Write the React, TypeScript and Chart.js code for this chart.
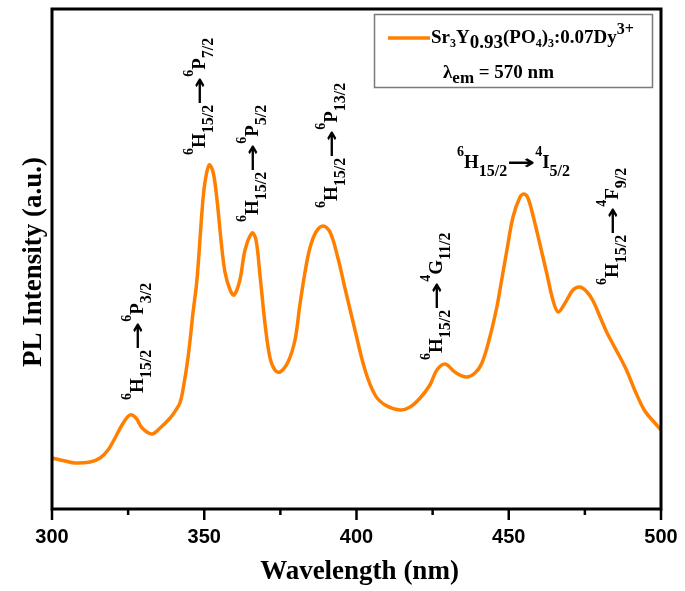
import React, { useEffect, useRef } from 'react';
import { Chart, registerables } from 'chart.js';
Chart.register(...registerables);

// ---- data ----
const wavelengths = [
  300.0, 304.3, 307.6, 312.5, 315.8, 318.4, 320.7, 323.0, 325.6, 327.6, 329.6, 332.8, 335.5, 338.8, 340.7,
  342.0, 343.0, 344.7, 346.3, 347.6, 349.3, 350.2, 351.6, 352.9, 354.2, 355.5, 356.8, 358.5, 359.8, 361.7,
  363.4, 365.7, 367.0, 368.3, 370.0, 371.6, 373.2, 374.9, 377.5, 379.8, 381.4, 383.1, 384.7, 386.7, 389.0,
  391.3, 393.9, 396.2, 399.5, 402.8, 406.1, 409.4, 414.3, 417.6, 420.9, 424.1, 426.4, 429.1, 432.3, 436.0,
  438.9, 441.2, 443.8, 446.1, 447.1, 449.4, 451.4, 453.7, 455.0, 456.3, 458.0, 460.3, 462.6, 464.5,
  466.2, 468.5, 471.1, 473.4, 475.7, 477.7, 480.0, 482.3, 484.2, 486.5, 488.8, 491.5, 494.7, 498.0, 500.0,
];
const intensities = [
  51, 48, 46, 47, 51, 59, 71, 84, 94, 91, 81, 75, 81, 91, 99,
  106, 119, 152, 196, 229, 299, 326, 344, 337, 309, 269, 237, 219, 214, 229,
  259, 276, 269, 234, 184, 151, 139, 137, 147, 169, 204, 237, 261, 277, 283,
  277, 251, 221, 179, 139, 114, 104, 99, 102, 111, 124, 139, 145, 137, 132,
  136, 146, 172, 202, 219, 259, 292, 312, 315, 311, 293, 264, 234, 209,
  197, 206, 219, 222, 217, 208, 192, 176, 165, 152, 138, 118, 98, 86, 79,
];
const xTickValues = [300, 350, 400, 450, 500];
const xMinorTickValues = [325, 375, 425, 475];
const xTitle = 'Wavelength (nm)';
const yTitle = 'PL Intensity (a.u.)';

// transitions: lower state -> upper state, anchored in data coordinates
const transitions = [
  { ls: '6', l: 'H', lj: '15/2', us: '6', u: 'P', uj: '3/2', wl: 329.9, v: 109, rot: true },
  { ls: '6', l: 'H', lj: '15/2', us: '6', u: 'P', uj: '7/2', wl: 350.2, v: 354, rot: true },
  { ls: '6', l: 'H', lj: '15/2', us: '6', u: 'P', uj: '5/2', wl: 367.7, v: 287, rot: true },
  { ls: '6', l: 'H', lj: '15/2', us: '6', u: 'P', uj: '13/2', wl: 393.6, v: 301, rot: true },
  { ls: '6', l: 'H', lj: '15/2', us: '4', u: 'G', uj: '11/2', wl: 428.1, v: 149, rot: true },
  { ls: '6', l: 'H', lj: '15/2', us: '4', u: 'I', uj: '5/2', wl: 433.0, v: 341, rot: false },
  { ls: '6', l: 'H', lj: '15/2', us: '4', u: 'F', uj: '9/2', wl: 485.9, v: 224, rot: true },
];

const LINE_COLOR = '#FF8000';
const SERIF = '"Liberation Serif", "Times New Roman", serif';
const SANS = '"Liberation Sans", Arial, sans-serif';
const ARROW_FONT = '"DejaVu Sans", sans-serif';

type Seg = { t: string; size: number; dy?: number; targetW?: number; font?: string };

function drawRich(ctx: CanvasRenderingContext2D, segs: Seg[], x: number, y: number, rotated: boolean) {
  ctx.save();
  ctx.translate(x, y);
  if (rotated) ctx.rotate(-Math.PI / 2);
  ctx.textBaseline = 'alphabetic';
  ctx.textAlign = 'left';
  ctx.fillStyle = '#000';
  let cx = 0;
  for (const s of segs) {
    ctx.font = `bold ${s.size}px ${s.font || SERIF}`;
    const w = ctx.measureText(s.t).width;
    if (s.targetW) {
      const k = s.targetW / w;
      ctx.save();
      ctx.translate(cx, s.dy || 0);
      ctx.scale(k, 1);
      ctx.fillText(s.t, 0, 0);
      ctx.restore();
      cx += s.targetW;
    } else {
      ctx.fillText(s.t, cx, s.dy || 0);
      cx += w;
    }
  }
  ctx.restore();
}

function transitionSegs(tr: typeof transitions[number]): Seg[] {
  return [
    { t: tr.ls, size: 14, dy: -12 },
    { t: tr.l, size: 19 },
    { t: tr.lj, size: 16, dy: 8 },
    { t: '\u2192', size: 20, targetW: 28, font: ARROW_FONT, dy: 1 },
    { t: tr.us, size: 14, dy: -12 },
    { t: tr.u, size: 19 },
    { t: tr.uj, size: 16, dy: 8 },
  ];
}

const decorPlugin = {
  id: 'decor',
  afterDraw(chart: any) {
    const ctx: CanvasRenderingContext2D = chart.ctx;
    const { left, right, top, bottom } = chart.chartArea;
    const xs = chart.scales.x;
    const ys = chart.scales.y;
    ctx.save();
    // frame
    ctx.strokeStyle = '#000';
    ctx.lineWidth = 3;
    ctx.strokeRect(left, top, right - left, bottom - top);
    // ticks
    ctx.lineWidth = 2.5;
    for (const v of xTickValues) {
      const px = xs.getPixelForValue(v);
      ctx.beginPath();
      ctx.moveTo(px, bottom);
      ctx.lineTo(px, bottom + 11);
      ctx.stroke();
    }
    for (const v of xMinorTickValues) {
      const px = xs.getPixelForValue(v);
      ctx.beginPath();
      ctx.moveTo(px, bottom);
      ctx.lineTo(px, bottom + 6);
      ctx.stroke();
    }
    // tick labels
    ctx.fillStyle = '#000';
    ctx.font = `bold 20px ${SANS}`;
    ctx.textAlign = 'center';
    ctx.textBaseline = 'alphabetic';
    for (const v of xTickValues) {
      ctx.fillText(String(v), xs.getPixelForValue(v), bottom + 34);
    }
    // axis titles
    ctx.font = `bold 27px ${SERIF}`;
    ctx.fillText(xTitle, (left + right) / 2 + 3, bottom + 70);
    ctx.save();
    ctx.translate(41, (top + bottom) / 2 + 3);
    ctx.rotate(-Math.PI / 2);
    ctx.fillText(yTitle, 0, 0);
    ctx.restore();

    // transition labels
    for (const tr of transitions) {
      drawRich(ctx, transitionSegs(tr), xs.getPixelForValue(tr.wl), ys.getPixelForValue(tr.v), tr.rot);
    }

    // legend box
    ctx.strokeStyle = '#7a7a7a';
    ctx.lineWidth = 1.5;
    ctx.strokeRect(374.5, 14.5, 278, 73);
    ctx.strokeStyle = LINE_COLOR;
    ctx.lineWidth = 3.5;
    ctx.beginPath();
    ctx.moveTo(388, 38);
    ctx.lineTo(430, 38);
    ctx.stroke();
    drawRich(
      ctx,
      [
        { t: 'Sr', size: 19 },
        { t: '3', size: 12, dy: 4 },
        { t: 'Y', size: 19 },
        { t: '0.93', size: 19, dy: 5 },
        { t: '(PO', size: 19 },
        { t: '4', size: 12, dy: 4 },
        { t: ')', size: 19 },
        { t: '3', size: 12, dy: 4 },
        { t: ':0.07Dy', size: 19 },
        { t: '3+', size: 16, dy: -9 },
      ],
      431,
      43,
      false
    );
    drawRich(
      ctx,
      [
        { t: '\u03BB', size: 19 },
        { t: 'em', size: 17, dy: 5 },
        { t: ' = 570 nm', size: 19 },
      ],
      443,
      78,
      false
    );
    ctx.restore();
  },
};

export default function App() {
  const ref = useRef<HTMLCanvasElement | null>(null);
  useEffect(() => {
    if (!ref.current) return;
    const chart = new Chart(ref.current, {
      type: 'line',
      data: {
        datasets: [
          {
            label: 'Sr3Y0.93(PO4)3:0.07Dy3+',
            data: wavelengths.map((w, i) => ({ x: w, y: intensities[i] })),
            borderColor: LINE_COLOR,
            borderWidth: 3.5,
            pointRadius: 0,
            fill: false,
            tension: 0.35,
          },
        ],
      },
      options: {
        animation: false,
        responsive: false,
        devicePixelRatio: 1,
        layout: { padding: { left: 52, right: 24, top: 9, bottom: 82 } },
        plugins: { legend: { display: false }, tooltip: { enabled: false } },
        scales: {
          x: { type: 'linear', min: 300, max: 500, display: false },
          y: { min: 0, max: 500, display: false },
        },
      },
      plugins: [decorPlugin],
    } as any);
    return () => chart.destroy();
  }, []);
  return (
    <div style={{ position: 'fixed', left: 0, top: 0, width: 685, height: 591, background: '#fff' }}>
      <canvas ref={ref} width={685} height={591} style={{ width: 685, height: 591 }} />
    </div>
  );
}
